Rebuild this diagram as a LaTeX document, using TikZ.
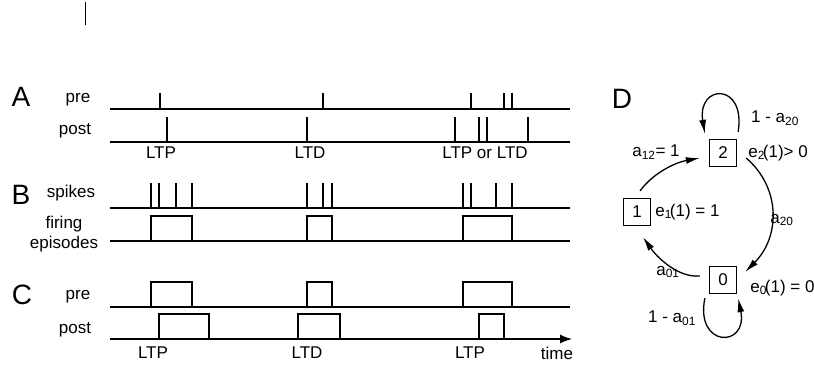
\documentclass[tikz,border=0pt]{standalone}
\usepackage{fontspec}
\setmainfont{Liberation Sans}
\usetikzlibrary{positioning, arrows.meta}

\tikzset{
  lbl/.style={font=\fontsize{17}{20}\selectfont, inner sep=1pt},
  panel/.style={font=\fontsize{28}{32}\selectfont, inner sep=0pt},
  state/.style={draw, line width=1.3pt, minimum size=27pt, inner sep=0pt, font=\fontsize{17}{20}\selectfont},
  trace/.style={line width=1.3pt},
  thicktrace/.style={line width=2.2pt},
  edge/.style={line width=1.3pt, -{Latex[length=14pt,width=7pt]}}
}
\newcommand{\esub}[1]{e\textsubscript{#1}\kern-2pt}

\begin{document}
\begin{tikzpicture}[x=1pt, y=1pt]
  \useasboundingbox (0,0) rectangle (814,368);
  \draw[line width=1pt] (85,366) -- (85,343);

  % A: single spikes
  \node[panel] (lblA) at (21,271) {A};
  \node[lbl] (preA) at (78,268) {pre};
  \node[lbl] (postA) at (75,237) {post};
  \draw[thicktrace] (110,259) -- (570,259);
  \draw[trace] (110,226) -- (570,226);
  \foreach \x in {160,323,471,504,512}
    \draw[trace] (\x,259) -- ++(0,16);
  \foreach \x in {167,307,455,479,487,528}
    \draw[trace] (\x,226) -- ++(0,25);
  \foreach \x/\val [count=\i] in {161/LTP, 310/LTD, 485/LTP or LTD}
    \node[lbl] (ruleA\i) at (\x,215) {\val};

  % B: spikes and firing episodes
  \node[panel] (lblB) at (21,173) {B};
  \node[lbl] (spikesB) at (71,175) {spikes};
  \node[lbl, align=center] (firingB) at (64,134) {firing\\episodes};
  \draw[thicktrace] (110,160) -- (570,160);
  \draw[trace] (110,127) -- (570,127);
  \foreach \x in {151,159,176,192,307,323,332,463,471,496,512}
    \draw[trace] (\x,160) -- ++(0,25);
  \foreach \a/\b in {151/192, 307/332, 463/512}
    \draw[trace] (\a,127) |- (\b,152) -- (\b,127);

  % C: episodes pre and post
  \node[panel] (lblC) at (22,73) {C};
  \node[lbl] (preC) at (78,71) {pre};
  \node[lbl] (postC) at (75,38) {post};
  \draw[trace] (110,61) -- (570,61);
  \draw[trace, -{Latex[length=12pt,width=9pt]}] (110,29) -- (572,29);
  \foreach \a/\b in {151/192, 307/332, 463/512}
    \draw[trace] (\a,61) |- (\b,86) -- (\b,61);
  \foreach \a/\b in {159/209, 298/340, 479/504}
    \draw[trace] (\a,29) |- (\b,54) -- (\b,29);
  \foreach \x/\val [count=\i] in {153/LTP, 307/LTD, 470/LTP, 557/time}
    \node[lbl] (ruleC\i) at (\x,15) {\val};

  % D: states
  \node[panel] (lblD) at (622,269) {D};
  \node[state] (n2) at (723,215) {2};
  \node[state] (n1) at (637,156) {1};
  \node[state] (n0) at (723,88) {0};
  \node[lbl, right=10pt of n2] (e2) {\esub{2}(1)> 0};
  \node[lbl, right=3pt of n1] (e1) {\esub{1}(1) = 1};
  \node[lbl, right=12pt of n0, yshift=-8pt] (e0) {\esub{0}(1) = 0};

  \draw[edge] ([shift={(1,7)}]n2.north east) .. controls +(8,50) and +(-8,50) .. ([shift={(-4,5)}]n2.north west);
  \draw[edge] ([shift={(3,7)}]n1.north) .. controls +(15,20) and +(-22,-4) .. ([shift={(-9,-5)}]n2.west);
  \draw[edge] ([shift={(9,-5)}]n2.east) .. controls +(35,-30) and +(35,35) .. ([shift={(8,8)}]n0.east);
  \draw[edge] ([shift={(-9,4)}]n0.west) .. controls +(-22,-2) and +(14,-20) .. ([shift={(6,-11)}]n1.south);
  \draw[edge] ([shift={(-4,-4)}]n0.south west) .. controls +(-10,-50) and +(10,-50) .. ([shift={(1,-4)}]n0.south east);

  \node[lbl] (a12) at (656,216) {a\textsubscript{12}= 1};
  \node[lbl] (a22) at (775,250) {1 - a\textsubscript{20}};
  \node[lbl] (a20) at (782,148) {a\textsubscript{20}};
  \node[lbl] (a01) at (668,96) {a\textsubscript{01}};
  \node[lbl] (a00) at (672,50) {1 - a\textsubscript{01}};
\end{tikzpicture}
\end{document}
